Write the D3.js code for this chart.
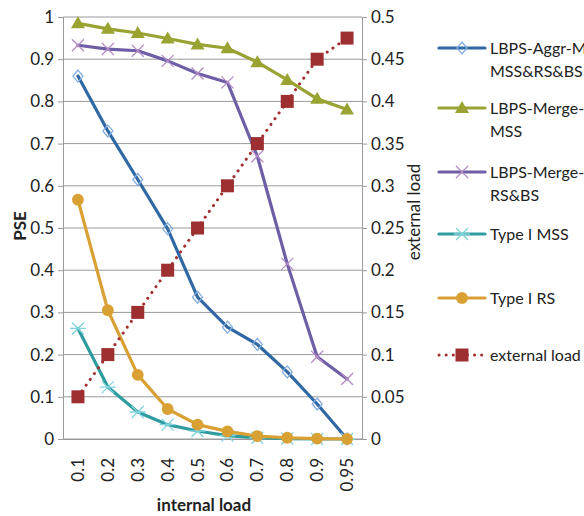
<!DOCTYPE html>
<html>
<head>
<meta charset="utf-8">
<script src="https://cdn.jsdelivr.net/npm/d3@7"></script>
<style>
  body { margin: 0; background: #fff; }
  text { font-family: Lato, "Open Sans", sans-serif; fill: #222; }
</style>
</head>
<body>
<div id="chart"></div>
<script>
const categories = ["0.1", "0.2", "0.3", "0.4", "0.5", "0.6", "0.7", "0.8", "0.9", "0.95"]

const aggrM = [0.86, 0.73, 0.615, 0.498, 0.336, 0.265, 0.224, 0.159, 0.083, 0.0]
const mergeMSS = [0.985, 0.972, 0.962, 0.949, 0.935, 0.926, 0.893, 0.851, 0.806, 0.781]
const mergeRSBS = [0.933, 0.924, 0.92, 0.896, 0.866, 0.845, 0.67, 0.415, 0.195, 0.142]
const typeIMSS = [0.262, 0.123, 0.064, 0.034, 0.019, 0.008, 0.003, 0.001, 0.0, 0.0]
const typeIRS = [0.567, 0.305, 0.152, 0.071, 0.034, 0.018, 0.007, 0.003, 0.001, 0.0]
const externalLoad = [0.05, 0.1, 0.15, 0.2, 0.25, 0.3, 0.35, 0.4, 0.45, 0.475]

const leftTicks = [0, 0.1, 0.2, 0.3, 0.4, 0.5, 0.6, 0.7, 0.8, 0.9, 1]
const rightTicks = [0, 0.05, 0.1, 0.15, 0.2, 0.25, 0.3, 0.35, 0.4, 0.45, 0.5]

const series = [
  { name: ["LBPS-Aggr-M", "MSS&RS&BS"], values: aggrM, color: "#2f68a3", marker: "diamond", mcolor: "#84aee0", axis: "left" },
  { name: ["LBPS-Merge-", "MSS"], values: mergeMSS, color: "#99a331", marker: "triangle", mcolor: "#99a331", axis: "left" },
  { name: ["LBPS-Merge-", "RS&BS"], values: mergeRSBS, color: "#6d5ea6", marker: "times", mcolor: "#b48cc6", axis: "left" },
  { name: ["Type I MSS"], values: typeIMSS, color: "#2e9c9f", marker: "asterisk", mcolor: "#7fd3dc", axis: "left" },
  { name: ["Type I RS"], values: typeIRS, color: "#d9a034", marker: "circle", mcolor: "#d9a034", axis: "left" },
  { name: ["external load"], values: externalLoad, color: "#a12f30", marker: "square", mcolor: "#9e2f30", axis: "right", dotted: true }
]

const width = 584, height = 516
const plot = { left: 63, right: 362, top: 17, bottom: 439 }

const svg = d3.select("#chart").append("svg")
  .attr("width", width)
  .attr("height", height)

const x = d3.scaleBand().domain(categories).range([plot.left, plot.right])
const yLeft = d3.scaleLinear().domain([0, 1]).range([plot.bottom, plot.top])
const yRight = d3.scaleLinear().domain([0, 0.5]).range([plot.bottom, plot.top])
const cx = d => x(d) + x.bandwidth() / 2

// gridlines
svg.append("g")
  .selectAll("line")
  .data(leftTicks)
  .join("line")
  .attr("x1", plot.left)
  .attr("x2", plot.right)
  .attr("y1", d => yLeft(d))
  .attr("y2", d => yLeft(d))
  .attr("stroke", "#9a9a9a")
  .attr("stroke-width", 1)

// axes
const leftAxis = svg.append("g")
  .attr("transform", `translate(${plot.left},0)`)
  .call(d3.axisLeft(yLeft).tickValues(leftTicks).tickFormat(d3.format("")).tickSize(5).tickPadding(4))
const rightAxis = svg.append("g")
  .attr("transform", `translate(${plot.right},0)`)
  .call(d3.axisRight(yRight).tickValues(rightTicks).tickFormat(d3.format("")).tickSize(5).tickPadding(4))
const bottomAxis = svg.append("g")
  .attr("transform", `translate(0,${plot.bottom})`)
  .call(d3.axisBottom(x).tickSize(0).tickPadding(0))

for (const ax of [leftAxis, rightAxis, bottomAxis]) {
  ax.select(".domain").attr("stroke", "#9a9a9a")
  ax.selectAll(".tick line").attr("stroke", "#9a9a9a")
  ax.selectAll(".tick text").attr("font-size", 17).attr("fill", "#222").attr("font-family", "Lato, sans-serif")
}
bottomAxis.selectAll(".tick text")
  .attr("transform", "rotate(-90)")
  .attr("text-anchor", "end")
  .attr("x", -19)
  .attr("y", 0)
  .attr("dy", "0.35em")

// axis titles
svg.append("text")
  .attr("transform", "translate(26,226) rotate(-90)")
  .attr("text-anchor", "middle")
  .attr("font-size", 17)
  .attr("font-weight", "bold")
  .text("PSE")
svg.append("text")
  .attr("transform", "translate(420,212) rotate(-90)")
  .attr("text-anchor", "middle")
  .attr("font-size", 17)
  .text("external load")
svg.append("text")
  .attr("x", 204)
  .attr("y", 511)
  .attr("text-anchor", "middle")
  .attr("font-size", 17)
  .attr("font-weight", "bold")
  .text("internal load")

// markers
function markerPath(type) {
  switch (type) {
    case "diamond": return "M0,-6L5,0L0,6L-5,0Z"
    case "triangle": return "M0,-7L7,5L-7,5Z"
    case "times": return "M-6,-6L6,6M-6,6L6,-6"
    case "asterisk": return "M-6,-6L6,6M-6,6L6,-6M-8,0L8,0"
    case "circle": return d3.symbol(d3.symbolCircle, 110)()
    case "square": return "M-6.5,-6.5H6.5V6.5H-6.5Z"
  }
}
function drawMarker(g, s) {
  const open = s.marker === "diamond" || s.marker === "times" || s.marker === "asterisk"
  g.append("path")
    .attr("d", markerPath(s.marker))
    .attr("fill", open ? "none" : s.mcolor)
    .attr("stroke", s.mcolor)
    .attr("stroke-width", open ? 1.3 : 0)
}

series.forEach(s => {
  const y = s.axis === "left" ? yLeft : yRight
  const pts = categories.map((c, i) => [cx(c), y(s.values[i])])
  const g = svg.append("g")
  g.append("path")
    .attr("d", d3.line()(pts))
    .attr("fill", "none")
    .attr("stroke", s.color)
    .attr("stroke-width", s.dotted ? 3 : 3.2)
    .attr("stroke-linecap", "round")
    .attr("stroke-linejoin", "round")
    .attr("stroke-dasharray", s.dotted ? "0.1 7" : null)
  g.selectAll("g.mk")
    .data(pts)
    .join("g")
    .attr("class", "mk")
    .attr("transform", d => `translate(${d[0]},${d[1]})`)
    .each(function () { drawMarker(d3.select(this), s) })
})

// legend
const legendY = [48, 108, 172, 234, 298, 355]
const legend = svg.append("g")
series.forEach((s, i) => {
  const g = legend.append("g").attr("transform", `translate(0,${legendY[i]})`)
  g.append("line")
    .attr("x1", 439).attr("x2", 485)
    .attr("stroke", s.color)
    .attr("stroke-width", s.dotted ? 3 : 3.2)
    .attr("stroke-linecap", "round")
    .attr("stroke-dasharray", s.dotted ? "0.1 7" : null)
  const m = g.append("g").attr("transform", "translate(462,0)")
  drawMarker(m, s)
  g.append("text")
    .attr("x", 490)
    .attr("font-size", 16)
    .selectAll("tspan")
    .data(s.name)
    .join("tspan")
    .attr("x", 490)
    .attr("y", (d, j) => j * 23)
    .attr("dy", "0.35em")
    .text(d => d)
})
</script>
</body>
</html>
